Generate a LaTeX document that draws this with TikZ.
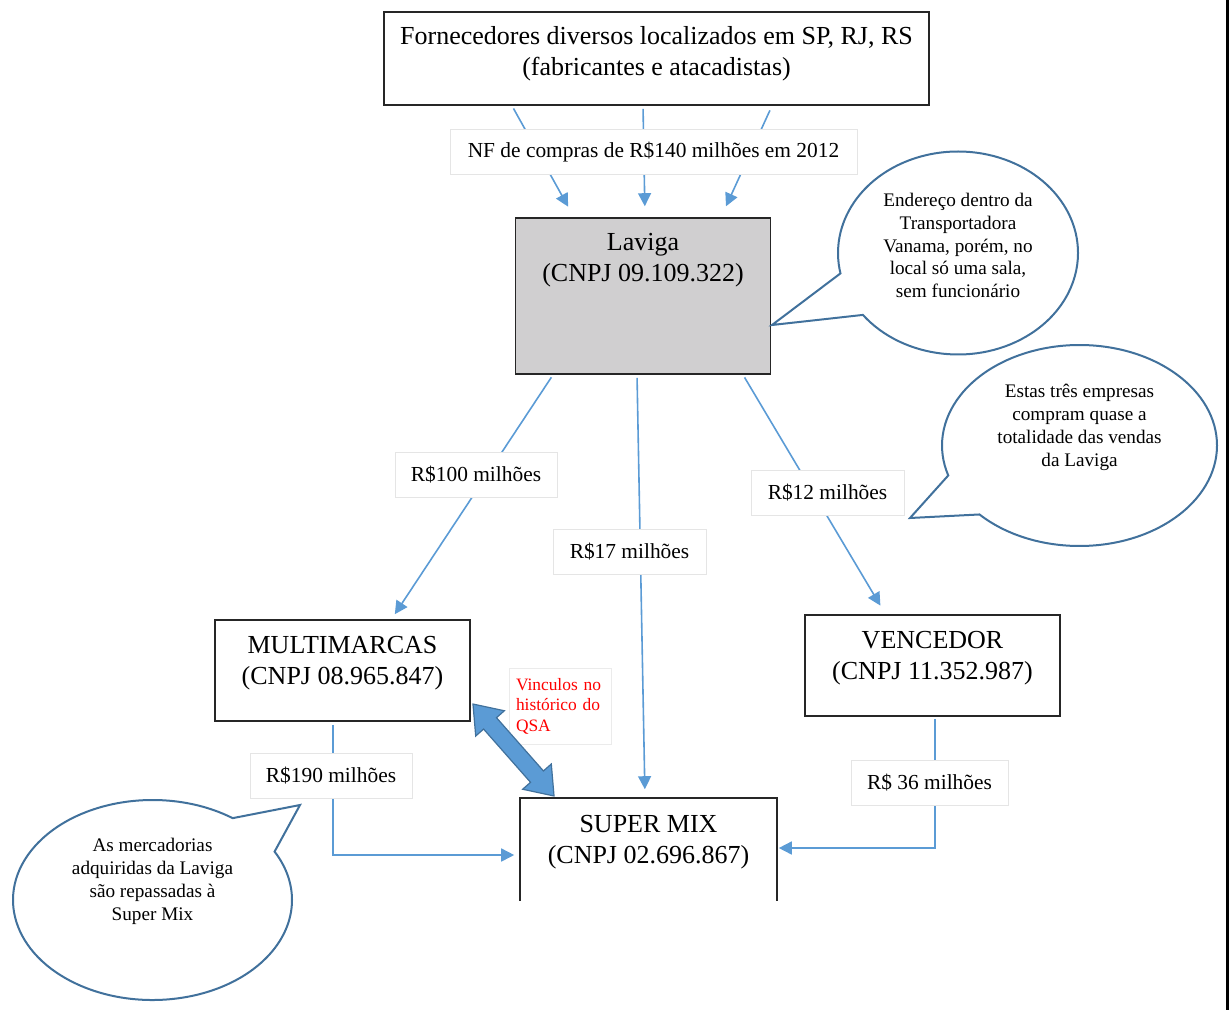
\documentclass[tikz,border=0pt]{standalone}
\usepackage{fontspec}
\setmainfont{Liberation Serif}
\usetikzlibrary{arrows.meta,shapes.callouts,shapes.arrows}
\definecolor{flowblue}{RGB}{91,155,213}
\definecolor{edgeblue}{RGB}{65,113,156}
\definecolor{lavgray}{RGB}{208,207,208}
\tikzset{
	firm/.style={draw=black!85, line width=0.8pt, minimum width=127.5pt, minimum height=50.5pt, inner sep=0pt},
	firmtext/.style={align=center, font=\fontsize{13}{15.5}\selectfont},
	flow/.style={draw=flowblue, line width=0.8pt, -{Triangle[length=6.5pt,width=6.5pt]}},
	amount/.style={draw=black!10, fill=white, line width=0.5pt, minimum height=22.5pt, inner sep=0pt, font=\fontsize{10.7}{12}\selectfont},
	bubble/.style={ellipse callout, draw=edgeblue, line width=1pt, fill=white, callout pointer arc=26},
	bubbletext/.style={align=center, font=\fontsize{9.6}{11.4}\selectfont}
}
\begin{document}
\begin{tikzpicture}[x=0.5pt, y=-0.5pt]
	\useasboundingbox (0,0) rectangle (1229,1010);
	\fill[black] (1226,0) rectangle (1229,1010);
	
	% empresas
	\node[firm, minimum width=272.5pt, minimum height=46.5pt, label={[firmtext, yshift=2.25pt]center:{Fornecedores diversos localizados em SP, RJ, RS\\(fabricantes e atacadistas)}}] (top) at (656.5,58.5) {};
	\node[firm, fill=lavgray, minimum height=78pt, label={[firmtext, yshift=18pt]center:Laviga\\(CNPJ 09.109.322)}] (lav) at (643,296) {};
	\node[firm, label={[firmtext, yshift=3.5pt]center:MULTIMARCAS\\(CNPJ 08.965.847)}] (multi) at (342.5,670.5) {};
	\node[firm, label={[firmtext, yshift=3.75pt]center:VENCEDOR\\(CNPJ 11.352.987)}] (venc) at (932.5,665.5) {};
	\node[firm, draw=none, label={[firmtext, yshift=3.5pt]center:SUPER MIX\\(CNPJ 02.696.867)}] (mix) at (648.5,849.5) {};
	\draw[black!85, line width=0.8pt] (mix.south west) -- (mix.north west) -- (mix.north east) -- (mix.south east);
	
	% fluxos
	\draw[flow, shorten <=1.5pt, shorten >=6pt] ([xshift=-72.25pt]top.south) -- ([xshift=-34.5pt]lav.north);
	\draw[flow, shorten <=1.5pt, shorten >=5.5pt] ([xshift=-6.75pt]top.south) -- ([xshift=1pt]lav.north);
	\draw[flow, shorten <=2.5pt, shorten >=6pt] ([xshift=57.75pt]top.south) -- ([xshift=39pt]lav.north);
	\draw[flow, shorten <=1.5pt, shorten >=3pt] ([xshift=-45pt]lav.south) -- ([xshift=24.5pt]multi.north);
	\draw[flow, shorten <=1.5pt, shorten >=4.5pt] ([xshift=-3pt]lav.south) -- ([xshift=-1.75pt]mix.north);
	\draw[flow, shorten <=1.5pt, shorten >=5pt] ([xshift=50pt]lav.south) -- ([xshift=-23.5pt]venc.north);
	\draw[flow, shorten <=1.5pt, shorten >=3pt] ([xshift=-4.75pt]multi.south) |- ([yshift=-2.75pt]mix.west);
	\draw[flow, shorten <=1pt, shorten >=1pt] ([xshift=1.25pt]venc.south) |- ([yshift=0.75pt]mix.east);
	
	% valores
	\node[amount, minimum width=203.5pt] (nf) at (653.5,152.5) {NF de compras de R\$140 milhões em 2012};
	\node[amount, minimum width=81pt] (v100) at (476,474.5) {R\$100 milhões};
	\node[amount, minimum width=76.5pt] (v17) at (629.5,551.5) {R\$17 milhões};
	\node[amount, minimum width=76.5pt] (v12) at (827.5,492.5) {R\$12 milhões};
	\node[amount, minimum width=81pt] (v190) at (331,775.5) {R\$190 milhões};
	\node[amount, minimum width=78.5pt] (v36) at (929.5,782.5) {R\$ 36 milhões};
	
	% vinculo
	\node[draw=black!8, fill=white, line width=0.5pt, text=red, align=left, text width=44pt, inner xsep=3.5pt, minimum height=38pt, font=\fontsize{8.7}{10.25}\selectfont] (vinc) at (560,706) {Vinculos no\\histórico do\\QSA};
	\node[double arrow, draw=edgeblue, fill=flowblue, line width=0.6pt, minimum height=61.3pt, minimum width=18.5pt, double arrow head extend=5.25pt, double arrow tip angle=73, inner xsep=0pt, inner ysep=4pt, rotate=-48.6] (link) at (513.5,750) {};
	
	% baloes
	\node[bubble, minimum width=120pt, minimum height=101.5pt, callout absolute pointer={(772,325)}, label={[bubbletext, yshift=3.75pt]center:{Endereço dentro da\\Transportadora\\Vanama, porém, no\\local só uma sala,\\sem funcionário}}] (note1) at (958,253) {};
	\node[bubble, minimum width=137.5pt, minimum height=100.5pt, callout absolute pointer={(910,518)}, label={[bubbletext, yshift=9pt]center:Estas três empresas\\compram quase a\\totalidade das vendas\\da Laviga}] (note2) at (1079.5,445.5) {};
	\node[bubble, minimum width=139.5pt, minimum height=100pt, callout absolute pointer={(300,805)}, label={[bubbletext, yshift=9.25pt]center:As mercadorias\\adquiridas da Laviga\\são repassadas à\\Super Mix}] (note3) at (152.5,900) {};
\end{tikzpicture}
\end{document}
